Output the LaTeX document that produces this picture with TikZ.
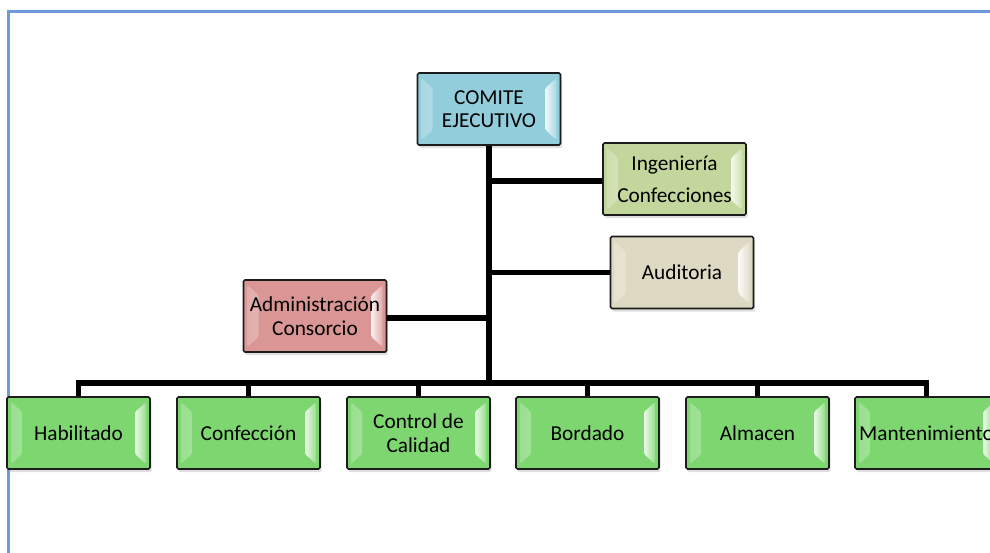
\documentclass[tikz,border=0pt]{standalone}
\usepackage{fontspec}
\setmainfont{Carlito}
\usetikzlibrary{shadows}

\definecolor{framec}{HTML}{6C9BDB}
\definecolor{cblue}{HTML}{92CDDC}
\definecolor{colive}{HTML}{C3D69B}
\definecolor{ctan}{HTML}{DDD9C3}
\definecolor{cred}{HTML}{D99694}
\definecolor{cgreen}{HTML}{7ED671}
\definecolor{edgec}{HTML}{1C1C1C}

\tikzset{
  orgbox/.style={
    draw=edgec, line width=1.6pt, rounded corners=1.5pt,
    fill=#1, minimum width=143pt, minimum height=72pt,
    inner sep=2pt, align=center, text=black,
    font=\fontsize{21.3}{23.5}\selectfont,
    drop shadow={opacity=0.25, shadow xshift=1.5pt, shadow yshift=-3pt},
    path picture={
      % bevel highlights on the left and right sides
      \shade[left color=#1!80!white, right color=#1!15!white]
        ([xshift=4pt,yshift=-5pt]path picture bounding box.north west)
        -- ([xshift=15pt,yshift=-15pt]path picture bounding box.north west)
        -- ([xshift=15pt,yshift=15pt]path picture bounding box.south west)
        -- ([xshift=4pt,yshift=5pt]path picture bounding box.south west) -- cycle;
      \shade[left color=#1!15!white, right color=#1!80!white]
        ([xshift=-15pt,yshift=-15pt]path picture bounding box.north east)
        -- ([xshift=-4pt,yshift=-5pt]path picture bounding box.north east)
        -- ([xshift=-4pt,yshift=5pt]path picture bounding box.south east)
        -- ([xshift=-15pt,yshift=15pt]path picture bounding box.south east) -- cycle;
    }
  },
  conn/.style={draw=black, line width=5.5pt, line join=miter}
}

\begin{document}
\begin{tikzpicture}[x=1pt, y=-1pt]
  \useasboundingbox (0,0) rectangle (990,552);

  % page border
  \draw[framec, line width=2.5pt] (8.5,560) -- (8.5,11.5) -- (1000,11.5);

  % top of the chart and side units
  \node[orgbox=cblue]  (ce)  at (489,109)   {COMITE\\EJECUTIVO};
  \node[orgbox=colive, font=\fontsize{21.3}{31.5}\selectfont] (ing) at (674.5,179) {Ingeniería\\Confecciones};
  \node[orgbox=ctan]   (aud) at (682,272.5) {Auditoria};
  \node[orgbox=cred]   (adm) at (315,316)   {Administración\\Consorcio};

  % operating areas
  \node[orgbox=cgreen] (hab) at (78.5,433)  {Habilitado};
  \node[orgbox=cgreen] (cnf) at (248.5,433) {Confección};
  \node[orgbox=cgreen] (cal) at (418.5,433) {Control de\\Calidad};
  \node[orgbox=cgreen] (bor) at (587.5,433) {Bordado};
  \node[orgbox=cgreen] (alm) at (757.5,433) {Almacen};
  \node[orgbox=cgreen] (man) at (926.5,433) {Mantenimiento};

  \coordinate (bus) at (489,383);

  % connectors
  \path[conn] (ce.south) -- (bus);
  \path[conn] (ing.west |- 0,181) -- (ce.south |- 0,181);
  \path[conn] (aud.west) -- (aud.west -| ce.south);
  \path[conn] (adm.east |- 0,318) -- (ce.south |- 0,318);
  \path[conn] (hab.north) |- (man.north |- bus) -- (man.north);
  \foreach \n in {cnf,cal,bor,alm}
    \path[conn] (\n.north) -- (\n.north |- bus);
\end{tikzpicture}
\end{document}
